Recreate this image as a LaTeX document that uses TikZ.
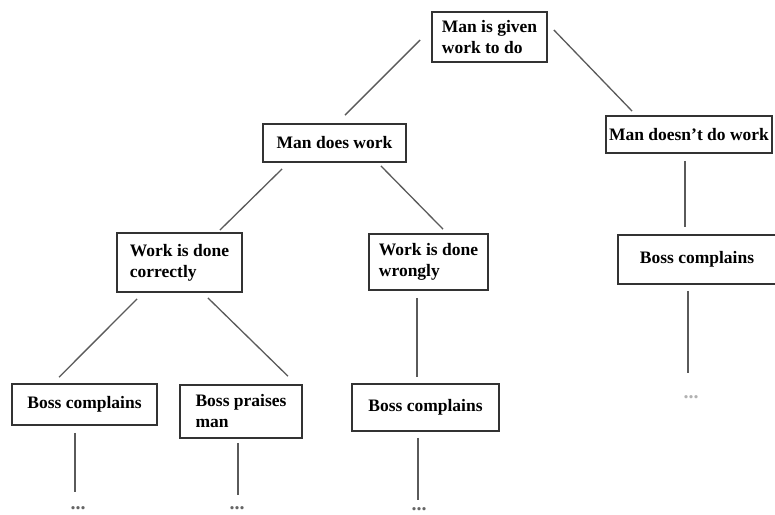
\documentclass[tikz,border=0pt]{standalone}
\usepackage{fontspec}
\setmainfont{Liberation Serif}
\usetikzlibrary{calc}
\definecolor{edgegray}{HTML}{5A5A5A}
\definecolor{framegray}{HTML}{333333}
\tikzset{
  box/.style={draw=framegray, line width=1.8pt, fill=white, align=left, inner sep=0pt,
    font=\fontsize{17.5}{21}\selectfont\bfseries},
  link/.style={draw=edgegray, line width=1.3pt},
  more/.style={text=gray!80!black, font=\fontsize{20}{20}\selectfont\bfseries, inner sep=0pt},
}
\begin{document}
\begin{tikzpicture}[x=1pt,y=-1pt]
\useasboundingbox (0,0) rectangle (775,514);
\fill[white] (0,0) rectangle (775,514);

% decision tree boxes
\node[box, minimum width=115pt, minimum height=50pt] (root) at (489.5,37) {Man is given\\work to do};
\node[box, minimum width=143pt, minimum height=38pt] (md) at (334.5,143) {Man does work};
\node[box, minimum width=166pt, minimum height=37pt] (mdn) at (689,134.5) {Man doesn{\char"0027}t do work};
\node[box, minimum width=125pt, minimum height=59pt] (cor) at (179.5,262.5) {Work is done\\correctly};
\node[box, minimum width=119pt, minimum height=56pt] (wr) at (428.5,262) {Work is done\\wrongly};
\node[box, minimum width=158pt, minimum height=49pt] (bcr) at (697,259.5) {Boss complains};
\node[box, minimum width=145pt, minimum height=41pt] (bcl) at (84.5,404.5) {Boss complains};
\node[box, minimum width=122pt, minimum height=53pt] (bpm) at (241,411.5) {Boss praises\\man};
\node[box, minimum width=147pt, minimum height=47pt] (bcm) at (425.5,407.5) {Boss complains};

% continuation marks
\node[more, text=gray!60] (dotsR) at (691,397) {...};
\node[more] (dotsA) at (78,508) {...};
\node[more] (dotsB) at (237,508) {...};
\node[more] (dotsC) at (419,509) {...};

% branches
\draw[link] ($(root.west)+(-11,3)$) -- ($(md.north)+(10.5,-8)$);
\draw[link] ($(root.east)+(6,-7)$) -- ($(mdn.north west)+(27,-4)$);
\draw[link] ($(md.south west)+(20,6)$) -- ($(cor.north east)+(-23,-2)$);
\draw[link] ($(md.south east)+(-26,3)$) -- ($(wr.north)+(14.5,-4)$);
\draw[link] ($(mdn.south)+(-4,7)$) -- ($(bcr.north)+(-12,-7)$);
\draw[link] ($(bcr.south)+(-9,6)$) -- ($(dotsR)+(-3,-24)$);
\draw[link] ($(cor.south west)+(21,6)$) -- ($(bcl.north west)+(48,-6)$);
\draw[link] ($(cor.south east)+(-35,5)$) -- ($(bpm.north east)+(-15,-8)$);
\draw[link] ($(wr.south)+(-11.5,7)$) -- ($(bcm.north)+(-8.5,-6)$);
\draw[link] ($(bcl.south)+(-9.5,7)$) -- ($(dotsA)+(-3,-16)$);
\draw[link] ($(bpm.south)+(-3,4)$) -- ($(dotsB)+(1,-13)$);
\draw[link] ($(bcm.south)+(-7.5,6)$) -- ($(dotsC)+(-1,-9)$);
\end{tikzpicture}
\end{document}
